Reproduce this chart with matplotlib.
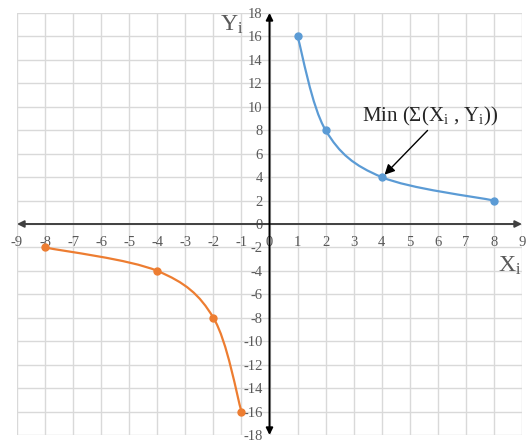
import matplotlib
matplotlib.use("Agg")
from matplotlib import pyplot as plt
from matplotlib.path import Path
from matplotlib.patches import PathPatch

plt.rcParams["font.family"] = ["Liberation Serif", "DejaVu Serif"]
plt.rcParams["mathtext.fontset"] = "custom"
plt.rcParams["mathtext.rm"] = "Liberation Serif"
plt.rcParams["mathtext.it"] = "Liberation Serif:italic"
plt.rcParams["axes.unicode_minus"] = False

# data
pos_x = [1, 2, 4, 8]
pos_y = [16, 8, 4, 2]
neg_x = [-1, -2, -4, -8]
neg_y = [-16, -8, -4, -2]
x_ticks = list(range(-9, 10))
y_ticks = list(range(-18, 19, 2))

BLUE = "#5B9BD5"
ORANGE = "#ED7D31"
GRAY = "#595959"


def smooth_path(xs, ys):
    # bezier segments through the points (excel-like smoothed line)
    pts = list(zip(xs, ys))
    verts = [pts[0]]
    codes = [Path.MOVETO]
    n = len(pts)
    for i in range(n - 1):
        p0 = pts[i - 1] if i > 0 else pts[i]
        p1 = pts[i]
        p2 = pts[i + 1]
        p3 = pts[i + 2] if i + 2 < n else pts[i + 1]
        c1 = (p1[0] + (p2[0] - p0[0]) / 6, p1[1] + (p2[1] - p0[1]) / 6)
        c2 = (p2[0] - (p3[0] - p1[0]) / 6, p2[1] - (p3[1] - p1[1]) / 6)
        verts += [c1, c2, p2]
        codes += [Path.CURVE4] * 3
    return Path(verts, codes)


fig = plt.figure(figsize=(5.32, 4.41), dpi=100)
ax = fig.add_axes([17 / 532, 1 - 435 / 441, 505 / 532, 422 / 441])

ax.set_xlim(-9, 9)
ax.set_ylim(-18, 18)
ax.set_xticks(x_ticks)
ax.set_yticks(y_ticks)
ax.grid(True, color="#d9d9d9", lw=1)
ax.set_axisbelow(True)

for s in ["top", "right"]:
    ax.spines[s].set_visible(False)
ax.spines["bottom"].set_position(("data", 0))
ax.spines["left"].set_position(("data", 0))
ax.spines["bottom"].set_visible(False)
ax.spines["left"].set_visible(False)
ax.tick_params(axis="x", length=0, pad=9, labelsize=10.5, labelcolor=GRAY)
ax.tick_params(axis="y", length=0, pad=5, labelsize=10.5, labelcolor=GRAY)

# axes with arrows
ax.annotate("", xy=(9, 0), xytext=(-9, 0),
            arrowprops=dict(arrowstyle="<|-|>", color="#404040", lw=1.4,
                            mutation_scale=10, shrinkA=0, shrinkB=0),
            annotation_clip=False)
ax.annotate("", xy=(0, 18), xytext=(0, -18),
            arrowprops=dict(arrowstyle="<|-|>", color="black", lw=1.4,
                            mutation_scale=10, shrinkA=0, shrinkB=0),
            annotation_clip=False)

for xs, ys, c in [(pos_x, pos_y, BLUE), (neg_x, neg_y, ORANGE)]:
    ax.add_patch(PathPatch(smooth_path(xs, ys), fill=False, edgecolor=c, lw=1.6, zorder=3))
    ax.plot(xs, ys, ls="none", marker="o", markersize=5, color=c, zorder=4)

ax.text(-1.34, 17.0, r"Y$_\mathrm{i}$", fontsize=17, color=GRAY, ha="center", va="center")
ax.text(8.57, -3.6, r"X$_\mathrm{i}$", fontsize=17, color=GRAY, ha="center", va="center")

ax.annotate(r"Min ($\Sigma$(X$_\mathrm{i}$ , Y$_\mathrm{i}$))", xy=(4.1, 4.2), xytext=(3.3, 9.2),
            fontsize=15, color="#262626", va="center", ha="left",
            arrowprops=dict(arrowstyle="-|>", color="black", lw=1,
                            shrinkA=0, shrinkB=0, relpos=(0.5, 0)))

fig.savefig("out.png", dpi=100)
